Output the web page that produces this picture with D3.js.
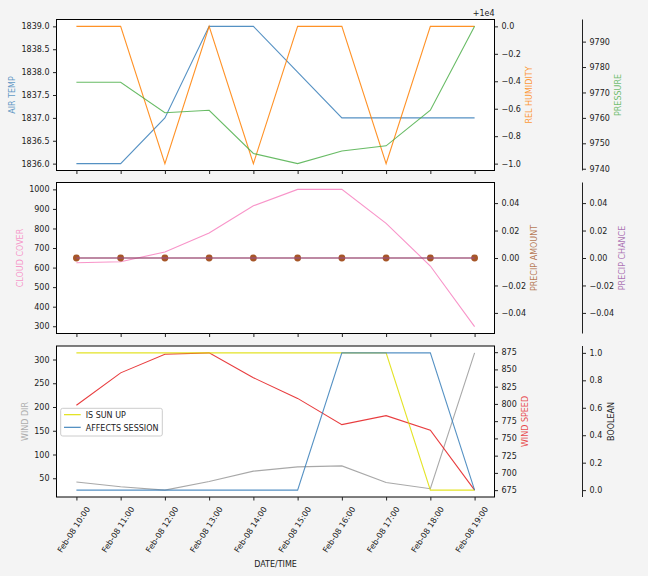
<!DOCTYPE html>
<html>
<head>
<meta charset="utf-8">
<script src="https://cdn.jsdelivr.net/npm/d3@7"></script>
<style>
  body { margin: 0; background: #f4f4f4; }
  text { font-family: "DejaVu Sans", sans-serif; }
</style>
</head>
<body>
<div id="chart"></div>
<script>
// data
const times = ["Feb-08 10:00", "Feb-08 11:00", "Feb-08 12:00", "Feb-08 13:00", "Feb-08 14:00",
  "Feb-08 15:00", "Feb-08 16:00", "Feb-08 17:00", "Feb-08 18:00", "Feb-08 19:00"];

const airTemp = [1836, 1836, 1837, 1839, 1839, 1838, 1837, 1837, 1837, 1837];
const relHumidity = [10000, 10000, 9999, 10000, 9999, 10000, 10000, 9999, 10000, 10000];
const pressure = [9774, 9774, 9762, 9763, 9746, 9742, 9747, 9749, 9763, 9796];

const cloudCover = [625, 630, 680, 777, 916, 1000, 1000, 826, 608, 298];
const precipAmount = [0, 0, 0, 0, 0, 0, 0, 0, 0, 0];
const precipChance = [0, 0, 0, 0, 0, 0, 0, 0, 0, 0];

const windDir = [42, 32, 25, 43, 65, 74, 76, 41, 28, 314];
const windSpeed = [798, 845, 872, 874, 838, 808, 770, 783, 762, 675];
const isSunUp = [1, 1, 1, 1, 1, 1, 1, 1, 0, 0];
const affectsSession = [0, 0, 0, 0, 0, 0, 1, 1, 1, 0];

// tick values
const airTempTicks = [1836, 1836.5, 1837, 1837.5, 1838, 1838.5, 1839];
const humidityTicks = [9999, 9999.2, 9999.4, 9999.6, 9999.8, 10000];
const pressureTicks = [9740, 9750, 9760, 9770, 9780, 9790];
const cloudTicks = [300, 400, 500, 600, 700, 800, 900, 1000];
const precipTicks = [-0.04, -0.02, 0, 0.02, 0.04];
const windDirTicks = [50, 100, 150, 200, 250, 300];
const windSpeedTicks = [675, 700, 725, 750, 775, 800, 825, 850, 875];
const boolTicks = [0, 0.2, 0.4, 0.6, 0.8, 1.0];

const colors = {
  blue: "#377eb8", orange: "#ff7f00", green: "#4daf4a", pink: "#f781bf",
  brown: "#a65628", purple: "#984ea3", gray: "#999999", red: "#e41a1c", yellow: "#dede00"
};

const width = 648, height = 576;
const left = 56.5, right = 494.5, spine3 = 582.5;
const panelTop = [19.5, 182.5, 346];
const panelH = 151;
const minus = s => s.replace(/-/g, "\u2212");

const svg = d3.select("#chart").append("svg")
  .attr("width", width).attr("height", height)
  .style("background", "#f4f4f4");

const x = d3.scaleLinear()
  .domain([-0.45, times.length - 1 + 0.45])
  .range([left, right]);

function padded(values) {
  const [a, b] = d3.extent(values);
  const r = b - a;
  if (r === 0) return [a - 0.055, a + 0.055];
  return [a - r * 0.05, b + r * 0.05];
}

function makePanel(i) {
  const top = panelTop[i];
  const g = svg.append("g");
  g.append("rect")
    .attr("x", left).attr("y", top)
    .attr("width", right - left).attr("height", panelH)
    .attr("fill", "#fff");
  return { g, top, bottom: top + panelH, mid: top + panelH / 2 };
}

function yScale(p, values) {
  return d3.scaleLinear().domain(padded(values)).range([p.bottom, p.top]);
}

function drawLine(p, y, values, color) {
  p.g.append("path")
    .datum(values)
    .attr("fill", "none")
    .attr("stroke", color)
    .attr("stroke-width", 1.1)
    .attr("stroke-opacity", 0.85)
    .attr("d", d3.line().x((d, i) => x(i)).y(d => y(d)));
}

function drawAxis(p, y, side, xpos, ticks, fmt) {
  const ax = (side === "left" ? d3.axisLeft(y) : d3.axisRight(y))
    .tickValues(ticks)
    .tickFormat(d => minus(fmt(d)))
    .tickSize(3.5)
    .tickPadding(3.5);
  const g = svg.append("g")
    .attr("transform", `translate(${xpos},0)`)
    .call(ax);
  g.select(".domain").remove();
  g.selectAll("line").attr("stroke", "#222");
  g.selectAll("text").attr("font-size", 8).attr("fill", "#222")
    .attr("font-family", "DejaVu Sans, sans-serif");
  if (xpos === spine3) {
    svg.append("line")
      .attr("x1", spine3).attr("x2", spine3)
      .attr("y1", p.top).attr("y2", p.bottom)
      .attr("stroke", "#222").attr("stroke-width", 1);
  }
}

function yLabel(text, xBase, yCenter, color, opacity) {
  svg.append("text")
    .attr("transform", `translate(${xBase},${yCenter}) rotate(-90)`)
    .attr("text-anchor", "middle")
    .attr("font-size", 8)
    .attr("fill", color)
    .attr("fill-opacity", opacity)
    .text(text);
}

function xTicks(p) {
  const ax = d3.axisBottom(x).tickValues(d3.range(times.length)).tickSize(3.5).tickFormat("");
  const g = svg.append("g").attr("transform", `translate(0,${p.bottom})`).call(ax);
  g.select(".domain").remove();
  g.selectAll("line").attr("stroke", "#222");
}

function frame(p) {
  svg.append("rect")
    .attr("x", left).attr("y", p.top)
    .attr("width", right - left).attr("height", panelH)
    .attr("fill", "none").attr("stroke", "#000").attr("stroke-width", 1);
}

// ---- top panel: temperature / humidity / pressure
const p1 = makePanel(0);
const yTemp = yScale(p1, airTemp);
const yHum = yScale(p1, relHumidity);
const yPres = yScale(p1, pressure);
drawLine(p1, yTemp, airTemp, colors.blue);
drawLine(p1, yHum, relHumidity, colors.orange);
drawLine(p1, yPres, pressure, colors.green);
frame(p1);
xTicks(p1);
drawAxis(p1, yTemp, "left", left, airTempTicks, d3.format(".1f"));
drawAxis(p1, yHum, "right", right, humidityTicks, d => (d - 10000).toFixed(1));
drawAxis(p1, yPres, "right", spine3, pressureTicks, d3.format("d"));
svg.append("text")
  .attr("x", right).attr("y", 15.5)
  .attr("text-anchor", "end").attr("font-size", 8).attr("fill", "#222")
  .text("+1e4");
yLabel("AIR TEMP", 15.3, p1.mid, colors.blue, 0.8);
yLabel("REL HUMIDITY", 532.3, p1.mid, colors.orange, 0.8);
yLabel("PRESSURE", 620.7, p1.mid, colors.green, 0.8);

// ---- middle panel: cloud cover / precipitation
const p2 = makePanel(1);
const yCloud = yScale(p2, cloudCover);
const yPAmt = yScale(p2, precipAmount);
const yPCh = yScale(p2, precipChance);
drawLine(p2, yCloud, cloudCover, colors.pink);
drawLine(p2, yPAmt, precipAmount, colors.brown);
p2.g.selectAll("circle.amt")
  .data(precipAmount)
  .join("circle")
  .attr("class", "amt")
  .attr("cx", (d, i) => x(i))
  .attr("cy", d => yPAmt(d))
  .attr("r", 3.4)
  .attr("fill", colors.brown);
drawLine(p2, yPCh, precipChance, colors.purple);
frame(p2);
xTicks(p2);
drawAxis(p2, yCloud, "left", left, cloudTicks, d3.format("d"));
drawAxis(p2, yPAmt, "right", right, precipTicks, d3.format(".2f"));
drawAxis(p2, yPCh, "right", spine3, precipTicks, d3.format(".2f"));
yLabel("CLOUD COVER", 22.7, p2.mid, colors.pink, 0.8);
yLabel("PRECIP AMOUNT", 536.7, p2.mid, colors.brown, 0.8);
yLabel("PRECIP CHANCE", 624.7, p2.mid, colors.purple, 0.8);

// ---- bottom panel: wind / booleans
const p3 = makePanel(2);
const yDir = yScale(p3, windDir);
const ySpd = yScale(p3, windSpeed);
const yBool = yScale(p3, [0, 1]);
drawLine(p3, yDir, windDir, colors.gray);
drawLine(p3, ySpd, windSpeed, colors.red);
drawLine(p3, yBool, isSunUp, colors.yellow);
drawLine(p3, yBool, affectsSession, colors.blue);
frame(p3);
xTicks(p3);
drawAxis(p3, yDir, "left", left, windDirTicks, d3.format("d"));
drawAxis(p3, ySpd, "right", right, windSpeedTicks, d3.format("d"));
drawAxis(p3, yBool, "right", spine3, boolTicks, d3.format(".1f"));
yLabel("WIND DIR", 28, p3.mid, colors.gray, 0.8);
yLabel("WIND SPEED", 527.7, p3.mid, colors.red, 0.8);
yLabel("BOOLEAN", 613.7, p3.mid, "#222", 1);

// legend
const legend = svg.append("g");
legend.append("rect")
  .attr("x", 60.7).attr("y", 408.3)
  .attr("width", 101.6).attr("height", 27.7)
  .attr("rx", 2)
  .attr("fill", "#fff").attr("fill-opacity", 0.8)
  .attr("stroke", "#ccc").attr("stroke-width", 1);
[["IS SUN UP", colors.yellow], ["AFFECTS SESSION", colors.blue]].forEach(([name, c], i) => {
  const yy = 414.7 + i * 12.6;
  legend.append("line")
    .attr("x1", 64).attr("x2", 80.7).attr("y1", yy).attr("y2", yy)
    .attr("stroke", c).attr("stroke-width", 1.1);
  legend.append("text")
    .attr("x", 85.7).attr("y", yy + 3.4)
    .attr("font-size", 8).attr("fill", "#222")
    .text(name);
});

// rotated date labels
svg.append("g").selectAll("text")
  .data(times)
  .join("text")
  .attr("transform", (d, i) => `translate(${x(i) + 14},509) rotate(-57)`)
  .attr("text-anchor", "end")
  .attr("font-size", 8)
  .attr("fill", "#222")
  .text(d => d);

svg.append("text")
  .attr("x", (left + right) / 2).attr("y", 567)
  .attr("text-anchor", "middle")
  .attr("font-size", 8).attr("fill", "#222")
  .text("DATE/TIME");
</script>
</body>
</html>
